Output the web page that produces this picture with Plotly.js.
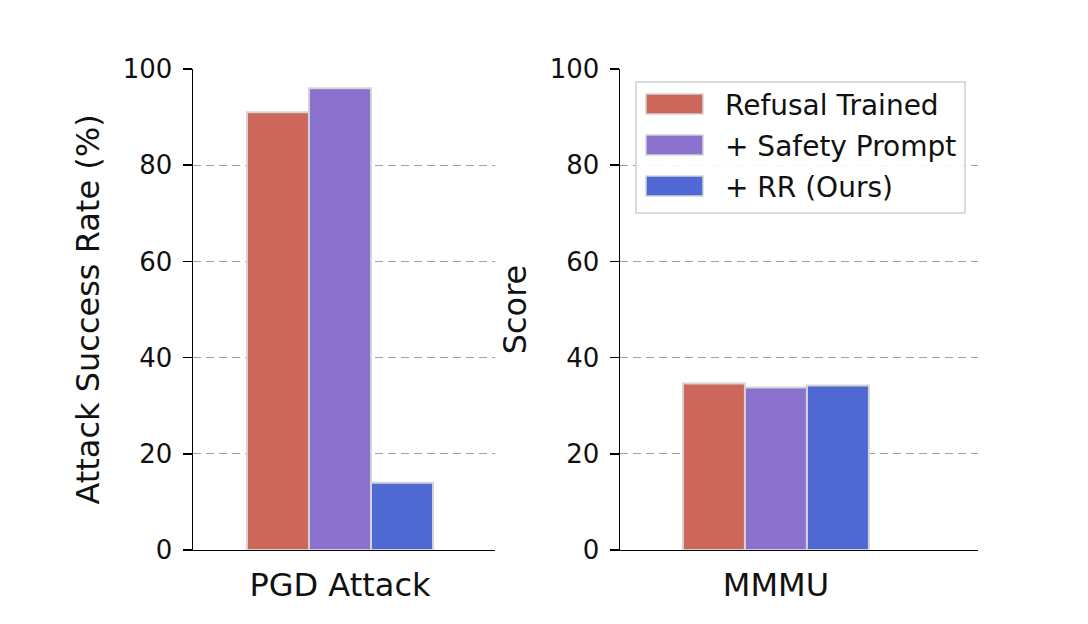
<!DOCTYPE html>
<html>
<head>
<meta charset="utf-8">
<script src="https://cdn.plot.ly/plotly-3.0.1.min.js"></script>
<style>html,body{margin:0;padding:0;background:#fff;}#chart{width:1088px;height:624px;}</style>
</head>
<body>
<div id="chart"></div>
<script>
const seriesNames = ['Refusal Trained', '+ Safety Prompt', '+ RR (Ours)'];
const seriesColors = ['#CD675C', '#8A71CD', '#5068D3'];
const leftCategory = ['PGD Attack'];
const rightCategory = ['MMMU'];
const attackSuccess = [91, 96, 14];
const mmmuScore = [34.6, 33.8, 34.2];
const yTicks = [0, 20, 40, 60, 80, 100];

const W = 1088, H = 624;
const traces = [];
seriesNames.forEach((name, i) => {
  traces.push({
    type: 'bar', name: name, x: leftCategory, y: [attackSuccess[i]],
    xaxis: 'x', yaxis: 'y', showlegend: false,
    marker: {color: seriesColors[i], line: {color: '#d4d4d4', width: 2}},
    hoverinfo: 'skip'
  });
  traces.push({
    type: 'bar', name: name, x: rightCategory, y: [mmmuScore[i]],
    xaxis: 'x2', yaxis: 'y2', showlegend: false,
    marker: {color: seriesColors[i], line: {color: '#d4d4d4', width: 2}},
    hoverinfo: 'skip'
  });
});

function yax(title, anchor) {
  return {
    anchor: anchor, domain: [0.1186, 0.8894], range: [0, 100],
    tickvals: yTicks, ticktext: yTicks.map(String),
    ticks: 'outside', ticklen: 9, tickwidth: 1.5, tickcolor: '#000',
    ticklabelstandoff: 5,
    tickfont: {family: 'DejaVu Sans', size: 26, color: '#111'},
    showline: true, linecolor: '#000', linewidth: 1.5,
    showgrid: true, gridcolor: '#a0a0a0', griddash: '8px,5px', gridwidth: 1.4,
    zeroline: false, fixedrange: true,
    title: {text: title, font: {family: 'DejaVu Sans', size: 32, color: '#111'}, standoff: 13}
  };
}
function xax(anchor, domain, range) {
  return {
    anchor: anchor, domain: domain, range: range, type: 'category',
    ticks: '', showline: true, linecolor: '#000', linewidth: 1.5,
    ticklabelstandoff: 6,
    showgrid: false, zeroline: false, fixedrange: true,
    tickfont: {family: 'DejaVu Sans', size: 32, color: '#111'}
  };
}

// Custom legend (matplotlib style): box, wide swatches, labels
const px = v => v / W, py = v => 1 - v / H;
const shapes = [{
  type: 'rect', xref: 'paper', yref: 'paper', layer: 'above',
  x0: px(636), x1: px(965), y0: py(213), y1: py(82),
  fillcolor: 'rgba(255,255,255,0.9)', line: {color: '#cfcfcf', width: 1.5}
}];
const annotations = [];
seriesNames.forEach((name, i) => {
  const cy = 104 + i * 41;
  shapes.push({
    type: 'rect', xref: 'paper', yref: 'paper', layer: 'above',
    x0: px(646), x1: px(703), y0: py(cy + 10), y1: py(cy - 10),
    fillcolor: seriesColors[i], line: {color: '#d4d4d4', width: 1.5}
  });
  annotations.push({
    xref: 'paper', yref: 'paper', x: px(723), y: py(cy + 1),
    xanchor: 'left', yanchor: 'middle', showarrow: false, text: name,
    font: {family: 'DejaVu Sans', size: 28, color: '#111'}
  });
});

const layout = {
  width: W, height: H,
  margin: {l: 0, r: 0, t: 0, b: 0},
  paper_bgcolor: '#fff', plot_bgcolor: '#fff',
  font: {family: 'DejaVu Sans', color: '#111'},
  barmode: 'group', bargap: 0.4, bargroupgap: 0,
  xaxis: xax('y', [0.1774, 0.4550], [-0.474, 0.5]),
  yaxis: yax('Attack Success Rate (%)', 'x'),
  xaxis2: xax('y2', [0.5699, 0.8989], [-0.503, 0.652]),
  yaxis2: yax('Score', 'x2'),
  shapes: shapes, annotations: annotations,
  showlegend: false
};

Plotly.newPlot('chart', traces, layout, {displayModeBar: false, staticPlot: true});
</script>
</body>
</html>
